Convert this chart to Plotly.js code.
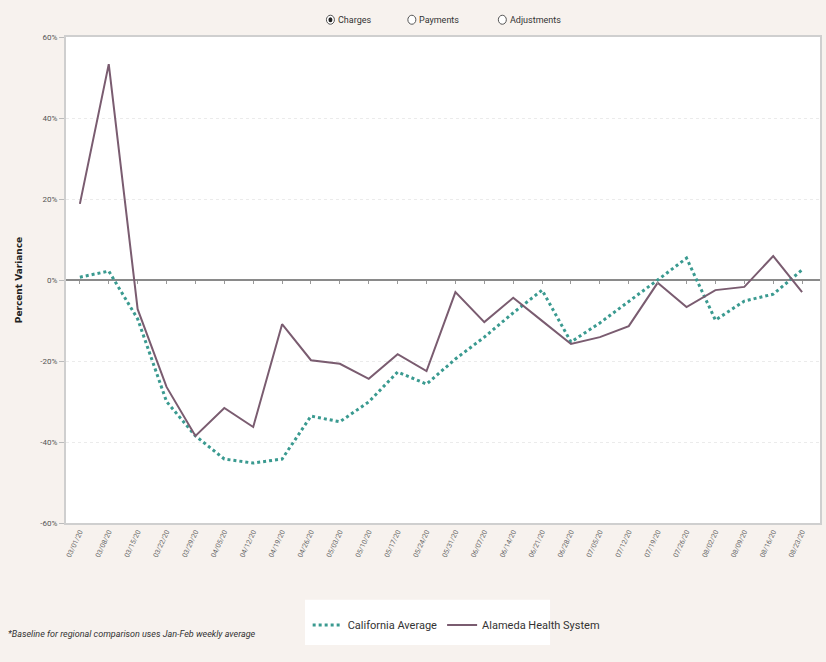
<!DOCTYPE html>
<html>
<head>
<meta charset="utf-8">
<script src="https://cdn.plot.ly/plotly-3.0.1.min.js"></script>
<style>html,body{margin:0;padding:0;background:#f7f2ee;}#chart{width:826px;height:662px;}</style>
</head>
<body>
<div id="chart"></div>
<script>
const weeks = ["03/01/20","03/08/20","03/15/20","03/22/20","03/29/20","04/05/20","04/12/20","04/19/20","04/26/20","05/03/20","05/10/20","05/17/20","05/24/20","05/31/20","06/07/20","06/14/20","06/21/20","06/28/20","07/05/20","07/12/20","07/19/20","07/26/20","08/02/20","08/09/20","08/16/20","08/23/20"];
const californiaAverage = [0.7, 2.2, -9.6, -30.0, -38.5, -44.2, -45.2, -44.2, -33.6, -35.0, -30.1, -22.7, -25.7, -19.5, -14.1, -8.1, -2.5, -15.3, -10.6, -5.4, 0.0, 5.4, -9.9, -5.2, -3.5, 2.5];
const alamedaHealth = [18.8, 53.3, -7.2, -26.4, -38.5, -31.6, -36.3, -10.9, -19.8, -20.7, -24.4, -18.3, -22.5, -3.0, -10.4, -4.4, -10.1, -15.8, -14.1, -11.4, -0.7, -6.7, -2.5, -1.7, 5.9, -3.0];
const yTickVals = [-60, -40, -20, 0, 20, 40, 60];
const yTickText = ["-60%", "-40%", "-20%", "0%", "20%", "40%", "60%"];
const radioOptions = ["Charges", "Payments", "Adjustments"];

const narrow = "Liberation Sans Narrow, Arial Narrow, Roboto, sans-serif";
const weekIndex = weeks.map((w, i) => i);

const traces = [
  {x: weeks, y: californiaAverage, type: "scatter", mode: "lines", name: "California Average",
   line: {color: "#3a9a90", width: 3, dash: "dot"}},
  {x: weeks, y: alamedaHealth, type: "scatter", mode: "lines", name: "Alameda Health System",
   line: {color: "#7a5c70", width: 2}},
  // invisible helper so the zero-line tick axis renders
  {x: weekIndex, y: alamedaHealth, xaxis: "x2", type: "scatter", mode: "lines",
   showlegend: false, hoverinfo: "skip", opacity: 0, line: {width: 0}}
];

const radioX = [0.356, 0.464, 0.584];
const shapes = [];
const annotations = [];
radioOptions.forEach((t, i) => {
  shapes.push({type: "circle", xref: "paper", yref: "paper", xsizemode: "pixel", ysizemode: "pixel",
    xanchor: radioX[i], yanchor: 1.0355, x0: -8, x1: 0, y0: -4.5, y1: 4.5,
    line: {color: "#555", width: 1}, fillcolor: "#fff"});
  if (i === 0) shapes.push({type: "circle", xref: "paper", yref: "paper", xsizemode: "pixel", ysizemode: "pixel",
    xanchor: radioX[i], yanchor: 1.0355, x0: -6, x1: -2, y0: -2.5, y1: 2.5,
    line: {width: 0}, fillcolor: "#222"});
  annotations.push({text: t, xref: "paper", yref: "paper", x: radioX[i] + 0.002, y: 1.0355,
    xanchor: "left", yanchor: "middle", showarrow: false,
    font: {family: narrow, size: 9, color: "#333"}});
});
annotations.push({text: "<i>*Baseline for regional comparison uses Jan-Feb weekly average</i>",
  xref: "paper", yref: "paper", x: -0.08, y: -0.228, xanchor: "left", yanchor: "middle",
  showarrow: false, font: {family: narrow, size: 9, color: "#333"}});

// white legend box
shapes.push({type: "rect", xref: "paper", yref: "paper", x0: 0.317, x1: 0.642, y0: -0.158, y1: -0.251,
  line: {width: 0}, fillcolor: "#ffffff", layer: "below"});

const layout = {
  width: 826, height: 662,
  paper_bgcolor: "#f7f2ee", plot_bgcolor: "#ffffff",
  margin: {l: 66, r: 6, t: 37, b: 139},
  showlegend: true,
  legend: {orientation: "h", x: 0.3205, y: -0.21, xanchor: "left", yanchor: "middle",
    bgcolor: "rgba(0,0,0,0)", font: {family: narrow, size: 11, color: "#333"},
    itemwidth: 30, tracegroupgap: 0},
  xaxis: {type: "category", range: [-0.48, 25.62], showgrid: false,
    tickangle: -65, tickfont: {family: narrow, size: 7, color: "#666"},
    ticks: "", showline: true, mirror: true, linecolor: "#cfcfcf", linewidth: 2},
  xaxis2: {type: "linear", overlaying: "x", anchor: "free", position: 0.5, side: "bottom",
    range: [-0.48, 25.62], tickmode: "array", tickvals: weekIndex,
    ticks: "outside", ticklen: 3, tickcolor: "#999",
    showticklabels: false, showline: false, showgrid: false, zeroline: false},
  yaxis: {range: [-60, 60], tickvals: yTickVals, ticktext: yTickText,
    tickfont: {family: narrow, size: 8, color: "#555"},
    ticks: "outside", ticklen: 5, tickcolor: "#bbb",
    showgrid: true, gridcolor: "#ebebeb", griddash: "dot",
    zeroline: true, zerolinecolor: "#8a8a8a", zerolinewidth: 1.5,
    showline: true, mirror: true, linecolor: "#cfcfcf", linewidth: 2,
    title: {text: "<b>Percent Variance</b>", standoff: 16,
      font: {family: "DejaVu Sans, sans-serif", size: 9, color: "#222"}}},
  shapes: shapes,
  annotations: annotations
};

Plotly.newPlot("chart", traces, layout, {displayModeBar: false, staticPlot: true});
</script>
</body>
</html>
